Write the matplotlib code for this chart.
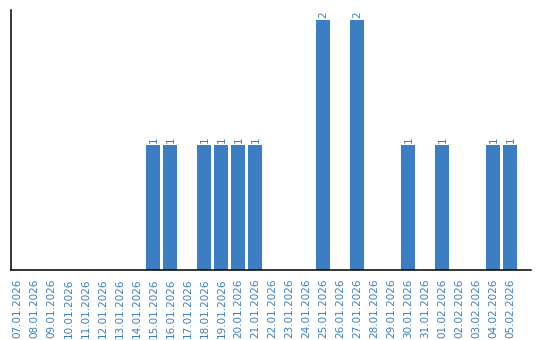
import matplotlib
matplotlib.use("Agg")
import matplotlib.pyplot as plt

dates = [
    "07.01.2026", "08.01.2026", "09.01.2026", "10.01.2026", "11.01.2026",
    "12.01.2026", "13.01.2026", "14.01.2026", "15.01.2026", "16.01.2026",
    "17.01.2026", "18.01.2026", "19.01.2026", "20.01.2026", "21.01.2026",
    "22.01.2026", "23.01.2026", "24.01.2026", "25.01.2026", "26.01.2026",
    "27.01.2026", "28.01.2026", "29.01.2026", "30.01.2026", "31.01.2026",
    "01.02.2026", "02.02.2026", "03.02.2026", "04.02.2026", "05.02.2026",
]
counts = [0, 0, 0, 0, 0, 0, 0, 0, 1, 1,
          0, 1, 1, 1, 1, 0, 0, 0, 2, 0,
          2, 0, 0, 1, 0, 1, 0, 0, 1, 1]

bar_color = "#3b7ec3"
text_color = "#3b7ec3"

fig = plt.figure(figsize=(5.4, 3.4), dpi=100)
ax = fig.add_axes([10.5 / 540, 70 / 340, 520 / 540, 260 / 340])

x = list(range(len(dates)))
ax.bar(x, counts, width=0.82, color=bar_color)

# value labels above non-empty bars
for i, v in zip(x, counts):
    if v > 0:
        ax.text(i, v + 0.015, str(v), rotation=90, ha="center", va="bottom",
                color=text_color, fontsize=7.5)

ax.set_xlim(-0.41, 30.18)
ax.set_ylim(0, 2.08)
ax.set_xticks(x)
ax.set_xticklabels(dates, rotation=90, color=text_color, fontsize=7.5)
ax.tick_params(axis="x", length=0, pad=6)
ax.set_yticks([])
ax.spines["top"].set_visible(False)
ax.spines["right"].set_visible(False)
ax.spines["left"].set_linewidth(1.1)
ax.spines["bottom"].set_linewidth(1.1)

fig.savefig("out.png", dpi=100)
